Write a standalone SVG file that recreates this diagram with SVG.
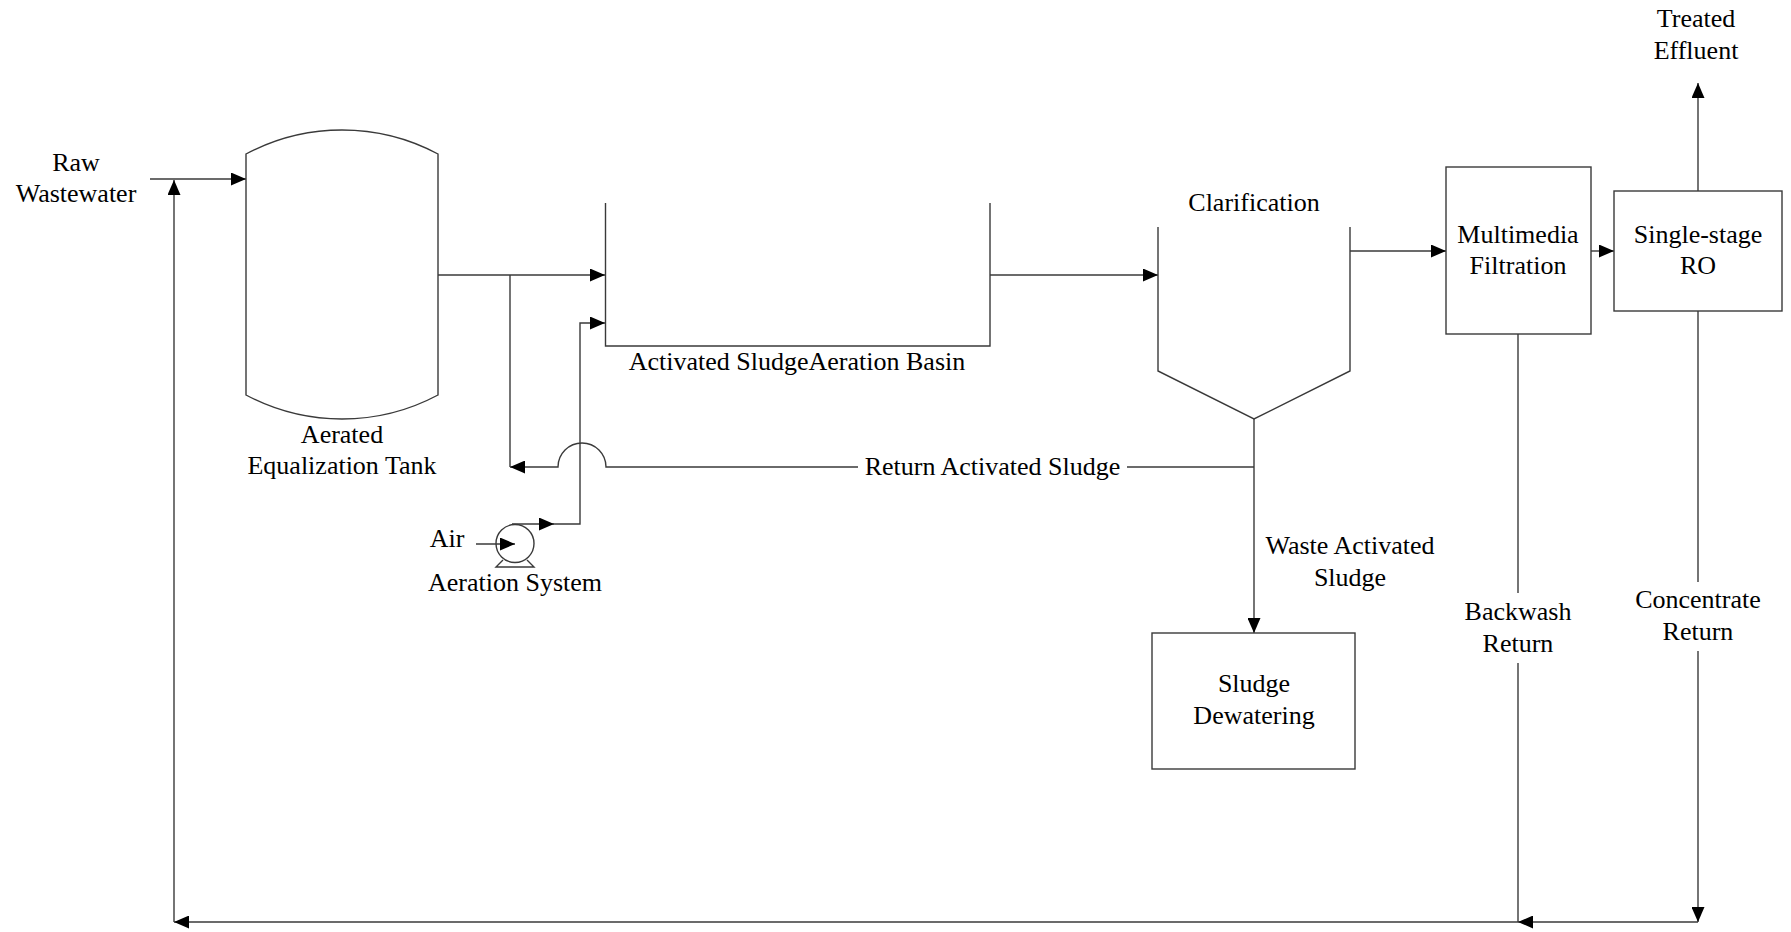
<svg xmlns="http://www.w3.org/2000/svg" width="1791" height="932" viewBox="0 0 1791 932">
  <style>
    .shape { fill: none; stroke: #3a3a3a; stroke-width: 1.4; }
    .pipe { fill: none; stroke: #3a3a3a; stroke-width: 1.4; }
    .lbl { font-family: "Liberation Serif", "Times New Roman", serif; font-size: 26px; fill: #000; text-anchor: middle; }
  </style>
  <defs>
    <marker id="arrow" markerUnits="userSpaceOnUse" markerWidth="15" markerHeight="13" refX="15" refY="6.5" orient="auto">
      <path d="M0,0 L15,6.5 L0,13 Z" fill="#000"/>
    </marker>
  </defs>
  <rect width="1791" height="932" fill="#fff"/>

  <!-- flow lines -->
  <g id="connectors">
    <!-- raw wastewater feed -->
    <path class="pipe" d="M150,179 H246" marker-end="url(#arrow)"/>
    <!-- equalization tank to aeration basin -->
    <path class="pipe" d="M438,275 H605" marker-end="url(#arrow)"/>
    <!-- return activated sludge line with crossover hop -->
    <path class="pipe" d="M1254,467 H1127"/>
    <path class="pipe" d="M858,467 H606 A24,24 0 0 0 558,467 H510" marker-end="url(#arrow)"/>
    <path class="pipe" d="M510,467 V275"/>
    <!-- air inlet and blower discharge -->
    <path class="pipe" d="M476,544 H515" marker-end="url(#arrow)"/>
    <path class="pipe" d="M512,524 H554" marker-end="url(#arrow)"/>
    <path class="pipe" d="M553,524 H580 V323 H605" marker-end="url(#arrow)"/>
    <!-- basin to clarifier -->
    <path class="pipe" d="M990,275 H1158" marker-end="url(#arrow)"/>
    <!-- clarifier overflow to filtration -->
    <path class="pipe" d="M1350,251 H1446" marker-end="url(#arrow)"/>
    <!-- clarifier underflow / waste sludge -->
    <path class="pipe" d="M1254,419 V633" marker-end="url(#arrow)"/>
    <!-- filtration to RO -->
    <path class="pipe" d="M1591,251 H1614" marker-end="url(#arrow)"/>
    <!-- RO permeate -->
    <path class="pipe" d="M1698,191 V83" marker-end="url(#arrow)"/>
    <!-- backwash return -->
    <path class="pipe" d="M1518,334 V593"/>
    <path class="pipe" d="M1518,663 V922"/>
    <!-- concentrate return -->
    <path class="pipe" d="M1698,311 V582"/>
    <path class="pipe" d="M1698,651 V922" marker-end="url(#arrow)"/>
    <path class="pipe" d="M1698,922 H1518" marker-end="url(#arrow)"/>
    <!-- combined recycle back to headworks -->
    <path class="pipe" d="M1518,922 H174" marker-end="url(#arrow)"/>
    <path class="pipe" d="M174,922 V180" marker-end="url(#arrow)"/>
  </g>

  <g id="raw-wastewater">
    <text class="lbl" x="76" y="171">Raw</text>
    <text class="lbl" x="76" y="202">Wastewater</text>
  </g>

  <g id="equalization-tank">
    <path class="shape" d="M246,154 A204,204 0 0 1 438,154 V395 A204,204 0 0 1 246,395 Z"/>
    <text class="lbl" x="342" y="443">Aerated</text>
    <text class="lbl" x="342" y="474">Equalization Tank</text>
  </g>

  <g id="aeration-basin">
    <path class="shape" d="M605.5,203 V346 H990 V203"/>
    <text class="lbl" x="797" y="370">Activated SludgeAeration Basin</text>
  </g>

  <g id="aeration-system">
    <circle class="shape" cx="515" cy="543.5" r="19"/>
    <path class="shape" d="M503,560 L496,567 H534 L527,560"/>
    <text class="lbl" x="447" y="547">Air</text>
    <text class="lbl" x="515" y="591">Aeration System</text>
  </g>

  <g id="return-sludge-label">
    <text class="lbl" x="992.5" y="475">Return Activated Sludge</text>
  </g>

  <g id="clarifier">
    <path class="shape" d="M1158,227 V371 L1254,419 L1350,371 V227"/>
    <text class="lbl" x="1254" y="211">Clarification</text>
  </g>

  <g id="waste-sludge-label">
    <text class="lbl" x="1350" y="554">Waste Activated</text>
    <text class="lbl" x="1350" y="586">Sludge</text>
  </g>

  <g id="sludge-dewatering">
    <rect class="shape" x="1152" y="633" width="203" height="136"/>
    <text class="lbl" x="1254" y="692">Sludge</text>
    <text class="lbl" x="1254" y="724">Dewatering</text>
  </g>

  <g id="multimedia-filtration">
    <rect class="shape" x="1446" y="167" width="145" height="167"/>
    <text class="lbl" x="1518" y="243">Multimedia</text>
    <text class="lbl" x="1518" y="274">Filtration</text>
  </g>

  <g id="single-stage-ro">
    <rect class="shape" x="1614" y="191" width="168" height="120"/>
    <text class="lbl" x="1698" y="243">Single-stage</text>
    <text class="lbl" x="1698" y="274">RO</text>
  </g>

  <g id="treated-effluent">
    <text class="lbl" x="1696" y="27">Treated</text>
    <text class="lbl" x="1696" y="59">Effluent</text>
  </g>

  <g id="backwash-label">
    <text class="lbl" x="1518" y="620">Backwash</text>
    <text class="lbl" x="1518" y="652">Return</text>
  </g>

  <g id="concentrate-label">
    <text class="lbl" x="1698" y="608">Concentrate</text>
    <text class="lbl" x="1698" y="640">Return</text>
  </g>
</svg>
